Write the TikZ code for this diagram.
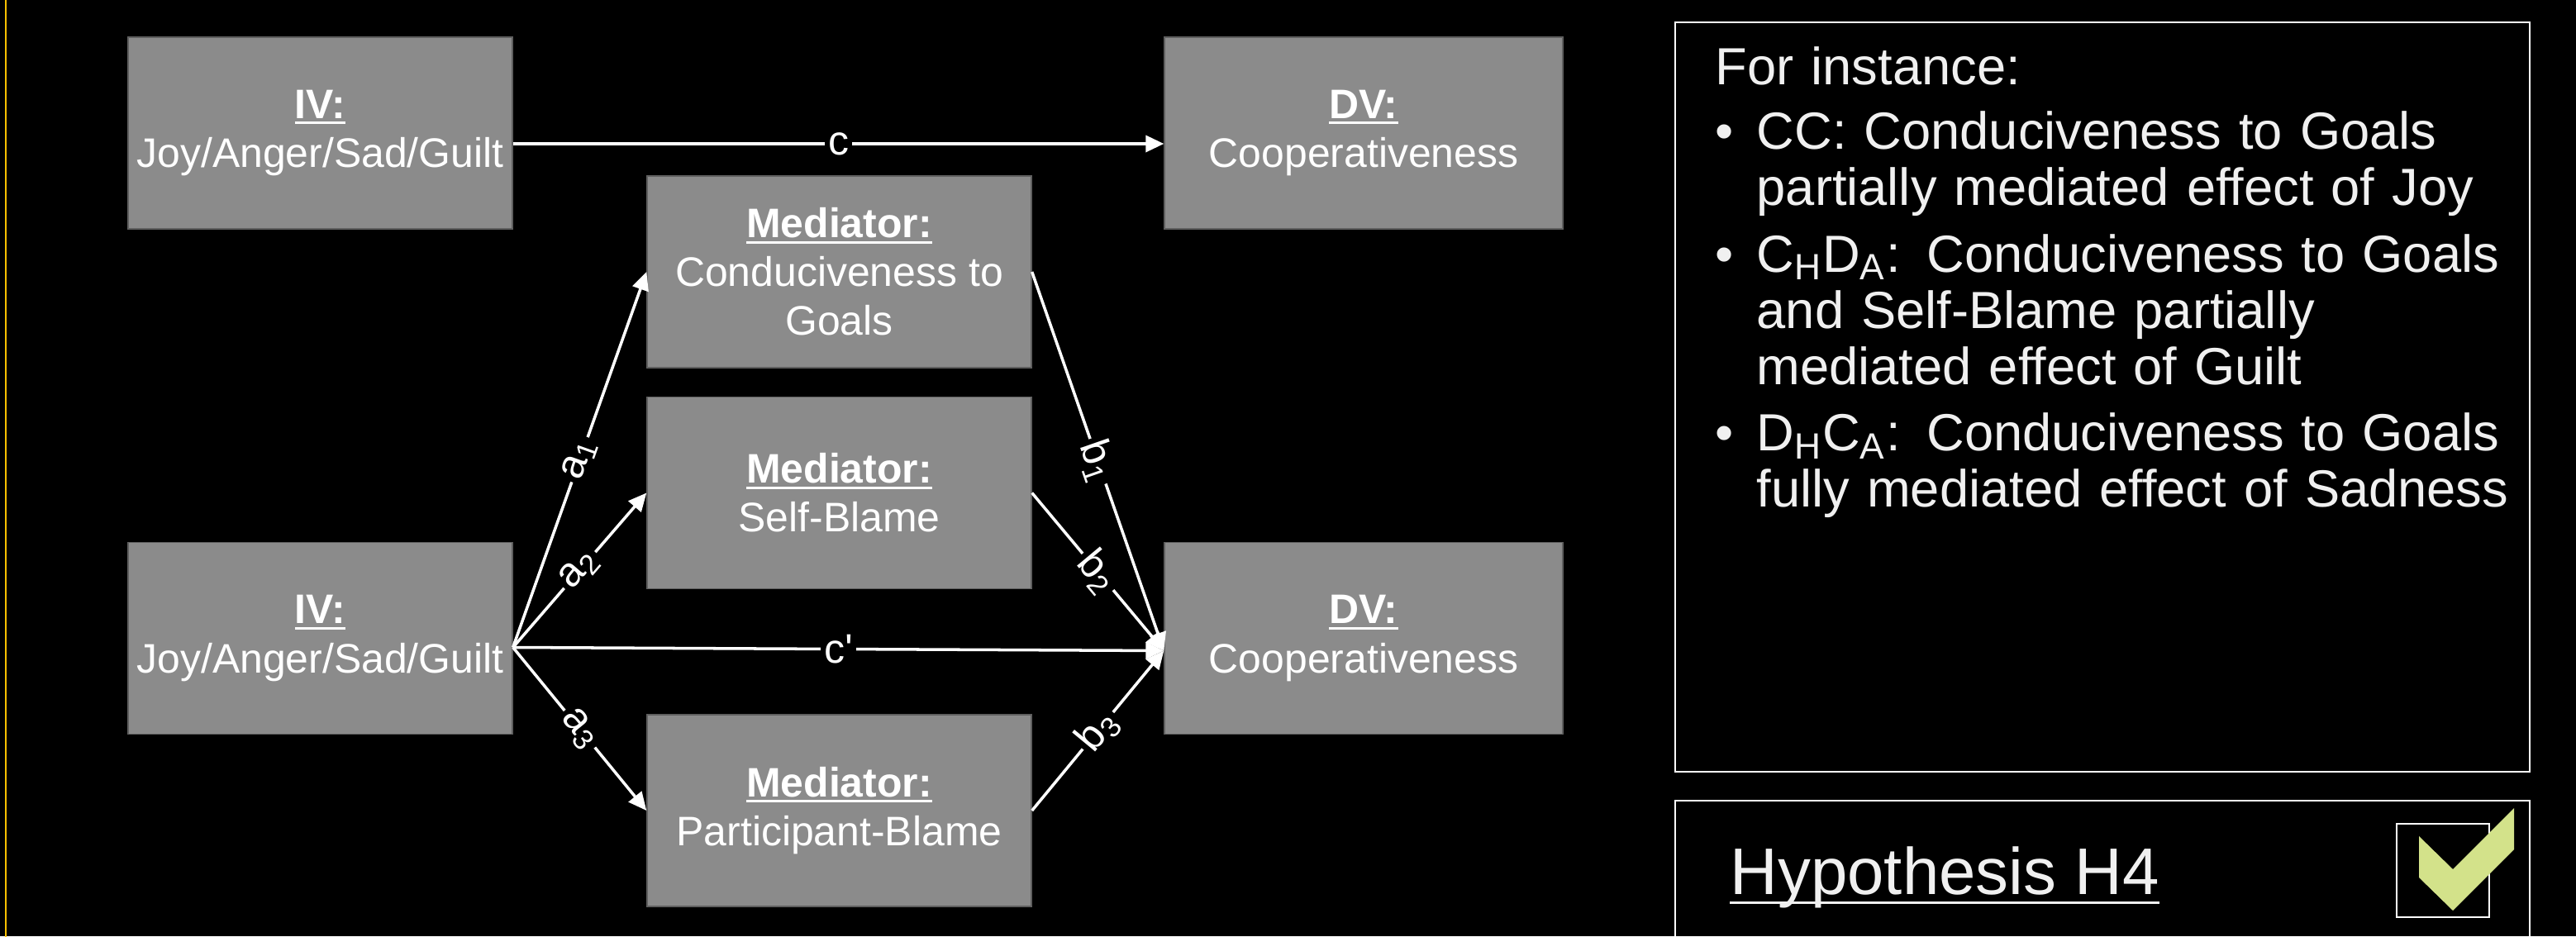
\documentclass[tikz,border=0pt]{standalone}
\usepackage{fontspec}
\setmainfont{Liberation Sans}
\usetikzlibrary{arrows.meta}

\definecolor{boxgray}{RGB}{139,139,139}
\definecolor{boxedge}{RGB}{95,95,95}
\definecolor{slideyellow}{RGB}{255,192,0}
\definecolor{checkgreen}{RGB}{211,226,138}
\definecolor{paneltext}{RGB}{240,240,240}

\newcommand{\undertxt}[1]{\setbox0\hbox{#1}\rlap{\copy0}\rule[-0.14em]{\wd0}{0.065em}}

\tikzset{
  varbox/.style={draw=boxedge, line width=0.4pt, fill=boxgray, text=white, align=center,
    minimum width=4.65cm, minimum height=2.32cm, inner sep=0pt,
    font=\fontsize{14.2}{16.8}\selectfont},
  link/.style={draw=white, line width=1pt, -{Triangle[length=2.2mm,width=2mm]}},
  pathlabel/.style={fill=black, text=white, sloped, inner sep=1.2pt,
    font=\fontsize{14.2}{16.8}\selectfont},
  panel/.style={draw=white, line width=0.75pt}
}

\begin{document}
\begin{tikzpicture}
\fill[black] (0,0) rectangle (31.17,11.33);
\useasboundingbox (0,0) rectangle (31.17,11.33);
\draw[slideyellow, line width=0.85pt] (0.07,-0.1) -- (0.07,11.43);

\node[varbox] (iv1) at (3.875,9.72) {\undertxt{\textbf{IV:}}\\Joy/Anger/Sad/Guilt};
\node[varbox, minimum width=4.82cm] (dv1) at (16.50,9.72) {\undertxt{\textbf{DV:}}\\Cooperativeness};
\draw[link] ([yshift=-1.3mm]iv1.east) -- node[pathlabel] {c} ([yshift=-1.3mm]dv1.west);

\node[varbox] (med1) at (10.155,8.04) {\undertxt{\textbf{Mediator:}}\\Conduciveness to\\Goals};
\node[varbox] (med2) at (10.155,5.365) {\undertxt{\textbf{Mediator:}}\\Self-Blame};
\node[varbox] (med3) at (10.155,1.52) {\undertxt{\textbf{Mediator:}}\\Participant-Blame};
\node[varbox] (iv2) at (3.875,3.605) {\undertxt{\textbf{IV:}}\\Joy/Anger/Sad/Guilt};
\node[varbox, minimum width=4.82cm] (dv2) at (16.50,3.605) {\undertxt{\textbf{DV:}}\\Cooperativeness};

\coordinate (src) at ([yshift=-1.1mm]iv2.east);
\coordinate (snk) at ([yshift=-1.5mm]dv2.west);
\draw[link] (src) -- node[pathlabel] {a\textsubscript{1}} (med1.west);
\draw[link] (src) -- node[pathlabel] {a\textsubscript{2}} (med2.west);
\draw[link] (src) -- node[pathlabel] {a\textsubscript{3}} (med3.west);
\draw[link] (med1.east) -- node[pathlabel] {b\textsubscript{1}} (snk);
\draw[link] (med2.east) -- node[pathlabel] {b\textsubscript{2}} (snk);
\draw[link] (med3.east) -- node[pathlabel] {b\textsubscript{3}} (snk);
\draw[link] (src) -- node[pathlabel] {c\textquotesingle} (snk);

\draw[panel] (20.27,11.06) rectangle (30.61,1.99);
\node[anchor=north west, inner sep=0pt, text width=9.8cm, text=paneltext,
  font=\fontsize{18}{19.4}\selectfont] (examples) at (20.75,10.77) {\raggedright For instance:
\begin{list}{\textbullet}{\setlength{\leftmargin}{0.5cm}\setlength{\labelwidth}{0.5cm}%
  \setlength{\labelsep}{0pt}\setlength{\topsep}{0.1cm}\setlength{\partopsep}{0pt}%
  \setlength{\itemsep}{0.12cm}\setlength{\parsep}{0pt}\def\makelabel#1{#1\hfil}}
\item CC: Conduciveness to Goals\newline partially mediated effect of Joy
\item C\textsubscript{H}D\textsubscript{A}: Conduciveness to Goals\newline and Self-Blame partially\newline mediated effect of Guilt
\item D\textsubscript{H}C\textsubscript{A}: Conduciveness to Goals\newline fully mediated effect of Sadness
\end{list}};

\draw[panel] (20.27,1.64) rectangle (30.61,-0.2);
\node[anchor=base west, inner sep=0pt, text=paneltext, font=\fontsize{22.7}{27}\selectfont]
  (hyp) at (20.93,0.51) {Hypothesis H4};
\draw[paneltext, line width=0.85pt] ([yshift=-1mm]hyp.base west) -- ([yshift=-1mm]hyp.base east);
\draw[panel] (29.00,1.36) rectangle (30.12,0.23);
\fill[checkgreen] (29.27,1.21) -- (29.68,0.81) -- (30.42,1.55) -- (30.42,1.05)
  -- (29.68,0.31) -- (29.27,0.71) -- cycle;
\end{tikzpicture}
\end{document}
